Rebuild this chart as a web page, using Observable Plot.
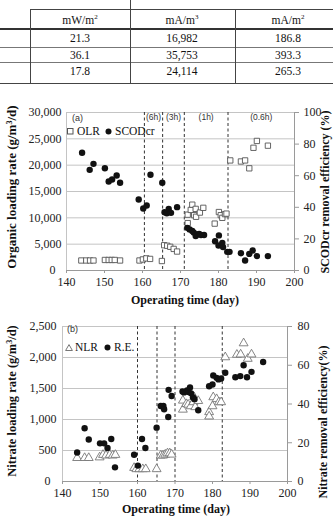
<!DOCTYPE html>
<html><head><meta charset="utf-8">
<script src="https://cdn.jsdelivr.net/npm/d3@7"></script>
<script src="https://cdn.jsdelivr.net/npm/@observablehq/plot@0.6"></script>
<style>
html,body{margin:0;padding:0;background:#fff;}
body{width:333px;height:517px;position:relative;overflow:hidden;font-family:"Liberation Serif","Times New Roman",serif;color:#111;}
.a{position:absolute;white-space:nowrap;}
.r{transform:translate(-50%,-50%) rotate(-90deg);}
.c{transform:translate(-50%,-50%);}
.hl{position:absolute;height:0;border-top:1px solid #444;}
.vl{position:absolute;width:0;border-left:1px solid #444;}
.cell{position:absolute;font-size:11.5px;transform:translate(-50%,-50%);white-space:nowrap;color:#111;}
.cell sup{font-size:7px;vertical-align:5px;line-height:0;}
.title{font-weight:bold;font-size:12.5px;color:#111;}
.title sup{font-size:8px;vertical-align:4px;line-height:0;}
.lab{font-family:"Liberation Sans",Arial,sans-serif;font-size:9px;color:#333;}
.leg{font-size:11.5px;display:flex;align-items:center;transform:translateY(-50%);color:#111;}
</style></head><body>
<div id="tbl"></div>
<div id="ca" class="a" style="left:0;top:100px"></div>
<div id="cb" class="a" style="left:0;top:314px"></div>

<div class="a lab" style="left:72px;top:113px">(a)</div>
<div class="a leg" style="left:67px;top:131px"><svg width="7" height="7"><rect x="0.5" y="0.5" width="5.5" height="5.5" fill="none" stroke="#555"/></svg><span style="margin-left:3px">OLR</span><svg style="margin-left:5px" width="7" height="7"><circle cx="3.5" cy="3.5" r="3" fill="#111"/></svg><span style="margin-left:3px">SCODcr</span></div>
<div class="a title r" style="left:12px;top:187px;font-size:13px">Organic loading rate (g/m<sup>3</sup>/d)</div>
<div class="a title r" style="left:325px;top:192px;font-size:12px">SCODcr removal efficiency (%)</div>
<div class="a title c" style="left:185px;top:300px;font-size:12px">Operating time (day)</div>

<div class="a lab" style="left:67px;top:324px">(b)</div>
<div class="a leg" style="left:65px;top:347px"><svg width="8" height="7"><path d="M4,0.6 L7.4,6.5 L0.6,6.5 Z" fill="none" stroke="#777"/></svg><span style="margin-left:2px">NLR</span><svg style="margin-left:6px" width="7" height="7"><circle cx="3.5" cy="3.5" r="3" fill="#111"/></svg><span style="margin-left:3px">R.E.</span></div>
<div class="a title r" style="left:12px;top:401px">Nitrate loading rate (g/m<sup>3</sup>/d)</div>
<div class="a title r" style="left:323px;top:422px;font-size:12px">Nitrate removal efficiency(%)</div>
<div class="a title c" style="left:176px;top:509px;font-size:12px">Operating time (day)</div>

<script>
// ---------- table (top, partially visible) ----------
const tableUnits = [["mW/m","2"],["mA/m","3"],["mA/m","2"]];
const tableRows = [
  ["21.3","16,982","186.8"],
  ["36.1","35,753","393.3"],
  ["17.8","24,114","265.3"]
];

// ---------- shared ----------
const xTicks = [140,150,160,170,180,190,200];

// ---------- chart (a) ----------
const olrDay = [143.9,145.2,146.2,147.1,150.1,151.1,151.9,152.7,154.1,159.2,160.1,161.0,162.0,165.1,
  165.7,166.5,167.3,168.2,169.1,
  171.9,171.9,172.7,173.1,173.6,174.0,174.1,175.1,176.0,179.0,180.1,180.6,181.0,181.7,182.1,
  183.1,185.9,187.0,188.1,189.2,190.1,193.0];
const olrVal = [1900,1900,1900,1900,2000,2000,2000,2000,1900,1900,2100,2300,2200,1800,
  4800,4700,4500,4100,3600,
  9000,10600,11500,12500,10500,11700,10200,11000,11900,8900,11100,10500,10000,10700,10800,
  20900,20700,20900,19400,23300,24600,23700];
const scodDay = [144.1,146.1,147.1,150.1,151.1,152.0,153.2,154.1,159.0,160.2,161.1,162.1,165.2,
  165.8,166.4,166.9,167.5,169.1,
  171.8,172.4,173.1,173.5,174.0,174.4,174.9,175.4,176.2,
  179.1,180.1,180.0,181.0,181.2,182.3,182.9,
  185.9,187.0,188.1,189.0,190.1,193.0];
const scodPct = [74.5,63.7,67.5,64.7,56.3,57.6,60.1,55.5,44.9,39.2,41.1,60.6,55.5,
  36.9,36.2,39.0,36.5,40.1,
  27.0,26.0,25.0,24.0,21.8,22.8,23.2,22.5,22.5,
  18.5,22.2,15.8,17.5,14.8,11.8,11.8,
  10.9,6.3,10.5,12.7,9.1,9.1];
const aLeftTicks = [0,5000,10000,15000,20000,25000,30000];
const aRightTicks = [0,20,40,60,80,100];
const aPhaseLines = [160.5,165.3,171.0,182.5];
const aPhaseLabels = ["(6h)","(3h)","(1h)","(0.6h)"];

// ---------- chart (b) ----------
const nlrDay = [143.9,145.9,147.0,149.9,150.8,151.6,152.6,153.4,154.1,159.1,159.7,160.5,161.4,162.2,165.1,
  166.2,166.8,167.4,168.0,168.6,169.1,
  172.1,172.1,173.0,173.5,174.2,174.9,175.1,175.4,176.2,179.1,179.1,180.0,180.2,181.1,181.7,182.3,
  183.4,186.5,187.5,188.3,189.4,190.4];
const nlrVal = [380,380,380,390,430,420,430,420,430,220,200,200,200,200,200,
  420,420,435,455,455,435,
  1306,1160,1250,1240,1215,1280,1360,1200,1300,1120,1050,1215,1360,1330,1280,1280,
  2005,2045,2050,2230,1980,2050];
const reDay = [143.9,145.9,147.0,150.0,151.1,152.0,153.0,154.0,159.1,160.1,161.2,162.1,165.1,
  166.2,166.9,167.1,168.2,168.3,169.1,
  172.0,172.4,173.2,173.6,174.0,174.3,174.8,175.2,176.2,179.1,180.0,180.2,181.1,181.6,182.3,183.4,
  186.1,187.4,188.3,189.2,190.4,193.5];
const rePct = [15.0,27.5,21.7,19.7,19.7,17.3,21.9,7.3,13.8,8.2,21.9,17.3,27.8,
  39.0,39.0,37.3,33.3,47.3,44.1,
  46.5,46.0,47.0,46.2,48.5,45.5,43.5,42.5,36.8,49.2,50.1,54.7,53.5,52.7,53.2,56.1,
  53.8,54.4,60.0,53.8,56.6,61.7];
const bLeftTicks = [0,500,1000,1500,2000,2500];
const bRightTicks = [0,20,40,60,80];
const bPhaseLines = [160.0,165.2,170.0,182.6];

// ---------- build table ----------
(function(){
  const t = document.getElementById("tbl");
  const add = (cls, style, html) => { const d = document.createElement("div"); d.className = cls; d.setAttribute("style", style); if (html) d.innerHTML = html; t.appendChild(d); };
  const colX = [80, 182, 288];
  add("hl", "left:30px;top:9px;width:303px");
  add("hl", "left:0;top:28px;width:333px;border-top:2.5px solid #333");
  add("hl", "left:0;top:47px;width:333px;border-top-color:#777");
  add("hl", "left:0;top:62px;width:333px;border-top-color:#777");
  add("hl", "left:0;top:83px;width:333px");
  add("vl", "left:130px;top:0;height:83px");
  add("vl", "left:30px;top:9px;height:74px");
  add("vl", "left:235px;top:9px;height:74px");
  tableUnits.forEach((u,i) => add("cell", `left:${colX[i]}px;top:20px`, `${u[0]}<sup>${u[1]}</sup>`));
  const rowY = [38, 54.5, 71];
  tableRows.forEach((row,r) => row.forEach((v,i) => add("cell", `left:${colX[i]}px;top:${rowY[r]}px`, v)));
})();

// ---------- plot (a) ----------
const A_K = 300; // 100 % on right axis == 30,000 on left axis
const olrA = olrDay.map((d,i) => ({day:d, v:olrVal[i]}));
const scodA = scodDay.map((d,i) => ({day:d, v:scodPct[i]*A_K}));
const aEdges = [...aPhaseLines, 200];
const aPhaseMid = aPhaseLines.map((d,i) => (d + aEdges[i+1]) / 2);

const chartA = Plot.plot({
  width:333, height:210, marginTop:12, marginBottom:40, marginLeft:66, marginRight:39,
  style:{fontFamily:"Liberation Serif, serif", fontSize:"12px", color:"#222", background:"none", overflow:"visible"},
  x:{domain:[140,200]},
  y:{domain:[0,30000]},
  marks:[
    Plot.gridY(aLeftTicks, {stroke:"#c4c4c4", strokeOpacity:1}),
    Plot.ruleX([140], {stroke:"#c4c4c4"}),
    Plot.ruleX([200], {stroke:"#9a9a9a"}),
    Plot.ruleY([0], {stroke:"#9a9a9a"}),
    Plot.axisX(xTicks, {tickSize:3, tickPadding:4, label:null, stroke:"#9a9a9a"}),
    Plot.axisY(aLeftTicks.filter(d => d > 0), {tickSize:0, tickPadding:5, label:null, tickFormat:d3.format(",")}),
    Plot.axisY(aLeftTicks.filter(d => d === 0), {tickSize:0, tickPadding:11, label:null, tickFormat:d3.format(",")}),
    Plot.axisY(aRightTicks.map(p => p*A_K), {anchor:"right", tickSize:4, tickPadding:5, label:null, stroke:"#9a9a9a", tickFormat:d => d/A_K}),
    Plot.ruleX(aPhaseLines, {stroke:"#333", strokeDasharray:"3,2.5", strokeWidth:1}),
    Plot.text(aPhaseLabels, {x:(d,i) => aPhaseMid[i], y:30000, dy:5, fontFamily:"Liberation Sans, sans-serif", fontSize:8.5, fill:"#333"}),
    Plot.dot(olrA, {x:"day", y:"v", symbol:"square", r:3, stroke:"#555", fill:"white", strokeWidth:0.9}),
    Plot.dot(scodA, {x:"day", y:"v", r:3.2, fill:"#111", stroke:"none"})
  ]
});
document.getElementById("ca").appendChild(chartA);

// ---------- plot (b) ----------
const B_K = 31.25; // 80 % on right axis == 2,500 on left axis
const nlrB = nlrDay.map((d,i) => ({day:d, v:nlrVal[i]}));
const reB = reDay.map((d,i) => ({day:d, v:rePct[i]*B_K}));

const chartB = Plot.plot({
  width:333, height:203, marginTop:12, marginBottom:36, marginLeft:62, marginRight:46,
  style:{fontFamily:"Liberation Serif, serif", fontSize:"12px", color:"#222", background:"none", overflow:"visible"},
  x:{domain:[140,200]},
  y:{domain:[0,2500]},
  marks:[
    Plot.gridY(bLeftTicks, {stroke:"#c4c4c4", strokeOpacity:1}),
    Plot.ruleX([140], {stroke:"#c4c4c4"}),
    Plot.ruleX([200], {stroke:"#9a9a9a"}),
    Plot.ruleY([0], {stroke:"#9a9a9a"}),
    Plot.axisX(xTicks, {tickSize:3, tickPadding:4, label:null, stroke:"#9a9a9a"}),
    Plot.axisY(bLeftTicks.filter(d => d > 0), {tickSize:0, tickPadding:6, label:null, tickFormat:d3.format(",")}),
    Plot.axisY(bLeftTicks.filter(d => d === 0), {tickSize:0, tickPadding:12, label:null, tickFormat:d3.format(",")}),
    Plot.axisY(bRightTicks.map(p => p*B_K), {anchor:"right", tickSize:4, tickPadding:6, label:null, stroke:"#9a9a9a", tickFormat:d => d/B_K}),
    Plot.ruleX(bPhaseLines, {stroke:"#333", strokeDasharray:"3,2.5", strokeWidth:1}),
    Plot.dot(nlrB, {x:"day", y:"v", symbol:"triangle", r:3.3, stroke:"#777", fill:"white", strokeWidth:0.9}),
    Plot.dot(reB, {x:"day", y:"v", r:3.2, fill:"#111", stroke:"none"})
  ]
});
document.getElementById("cb").appendChild(chartB);
</script>
</body></html>
